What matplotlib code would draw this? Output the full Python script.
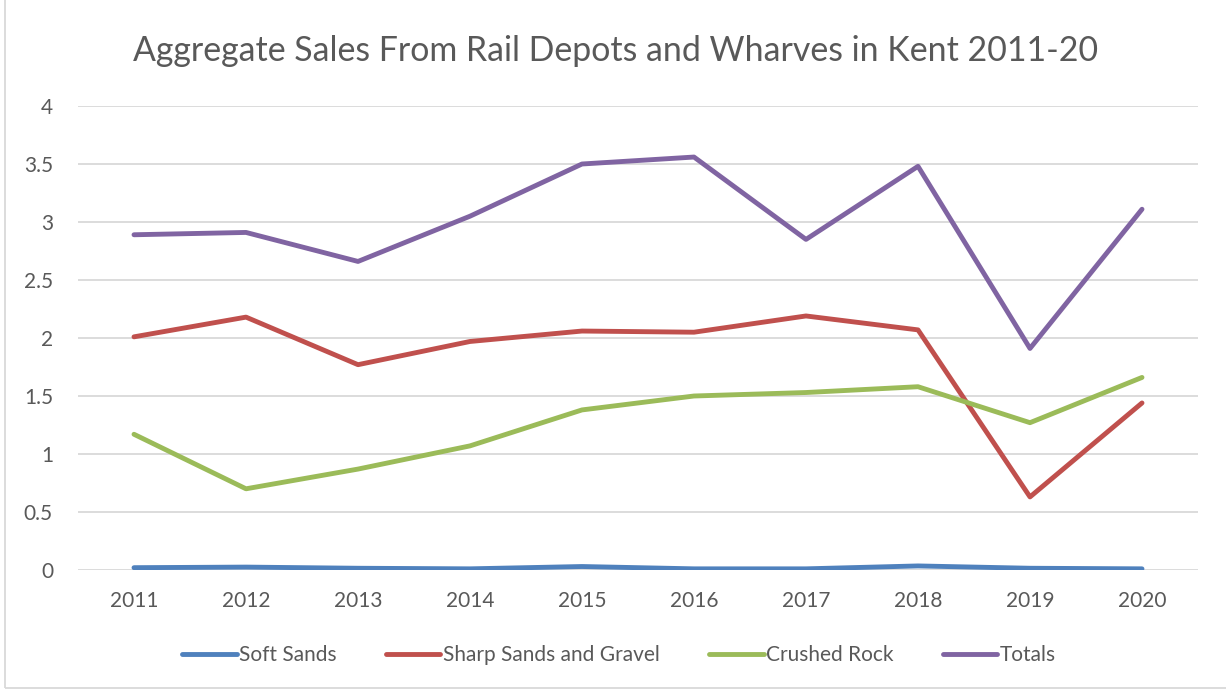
import matplotlib
matplotlib.use("Agg")
import matplotlib.pyplot as plt
from matplotlib.patches import Rectangle

years = ["2011", "2012", "2013", "2014", "2015", "2016", "2017", "2018", "2019", "2020"]
soft_sands = [0.02, 0.025, 0.015, 0.01, 0.03, 0.01, 0.01, 0.035, 0.015, 0.01]
sharp_sands_gravel = [2.01, 2.18, 1.77, 1.97, 2.06, 2.05, 2.19, 2.07, 0.63, 1.44]
crushed_rock = [1.17, 0.70, 0.87, 1.07, 1.38, 1.50, 1.53, 1.58, 1.27, 1.66]
totals = [2.89, 2.91, 2.66, 3.05, 3.50, 3.56, 2.85, 3.48, 1.91, 3.11]
yticks = [0, 0.5, 1, 1.5, 2, 2.5, 3, 3.5, 4]
ytick_labels = ["0", "0.5", "1", "1.5", "2", "2.5", "3", "3.5", "4"]

series = [
    ("Soft Sands", soft_sands, "#4F81BD"),
    ("Sharp Sands and Gravel", sharp_sands_gravel, "#C0504D"),
    ("Crushed Rock", crushed_rock, "#9BBB59"),
    ("Totals", totals, "#8064A2"),
]

plt.rcParams['font.family'] = ['Lato', 'DejaVu Sans']
text_color = "#595959"

fig = plt.figure(figsize=(12.26, 6.89), dpi=100)
ax = fig.add_axes([78/1226, 1-570/689, (1198-78)/1226, (570-106)/689])

x = list(range(len(years)))
for name, vals, col in series:
    ax.plot(x, vals, color=col, lw=3.5, label=name, solid_capstyle='round', solid_joinstyle='round')

ax.set_xlim(-0.5, len(years)-0.5)
ax.set_ylim(0, 4)
ax.set_yticks(yticks)
ax.set_yticklabels(ytick_labels)
ax.set_xticks(x)
ax.set_xticklabels(years)
ax.grid(axis='y', color='#D9D9D9', lw=1.3)
ax.set_axisbelow(True)
for s in ax.spines.values():
    s.set_visible(False)
ax.tick_params(axis='both', length=0, labelsize=15, labelcolor=text_color)
ax.tick_params(axis='y', pad=18)
ax.tick_params(axis='x', pad=15)

fig.text(616/1226, 1-51/689, "Aggregate Sales From Rail Depots and Wharves in Kent 2011-20",
         ha='center', va='center', fontsize=24.4, color=text_color)

leg = fig.legend(loc='center', bbox_to_anchor=(619/1226, 1-655/689), ncol=4, frameon=False,
                 fontsize=15, handlelength=2.6, handletextpad=0.1, columnspacing=2.4,
                 labelcolor=text_color)

fig.patches.append(Rectangle((5/1226, 1/689), 1.0, 1.0, transform=fig.transFigure,
                             fill=False, edgecolor='#D9D9D9', lw=1.3))

fig.savefig("out.png", dpi=100)
